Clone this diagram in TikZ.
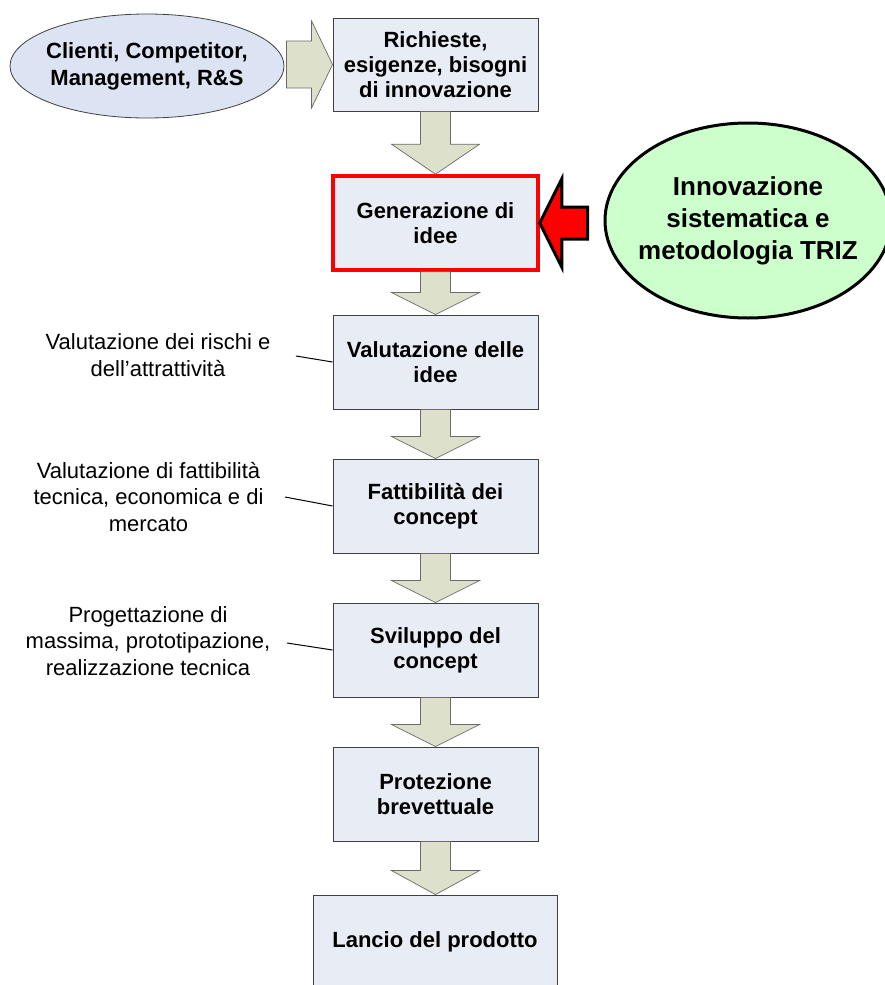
\documentclass[tikz,border=0pt]{standalone}
\usepackage{fontspec}
\setmainfont{Liberation Sans}
\usetikzlibrary{calc,shapes.geometric}
\definecolor{boxfill}{HTML}{E8ECF5}
\definecolor{arrfill}{HTML}{DDE0CA}
\definecolor{ellfill}{HTML}{DCE3F2}
\definecolor{grnfill}{HTML}{CCFFCC}
\definecolor{edgegray}{HTML}{404040}
\definecolor{arredge}{HTML}{6A6A6A}
\newcommand{\blockdown}[3]{%
  \draw[blockarrow] let \p1=(#1.south), \p2=(#2.north) in
   (\x1-15pt,\y1) -- (\x1+15pt,\y1) -- (\x1+15pt,\y2+#3pt) -- (\x1+44pt,\y2+#3pt)
   -- (\x1,\y2) -- (\x1-44pt,\y2+#3pt) -- (\x1-15pt,\y2+#3pt) -- cycle;}
\tikzset{
  stepbox/.style={draw=edgegray, line width=0.9pt, fill=boxfill, minimum width=205pt,
    minimum height=94pt, inner sep=0pt, align=center,
    font=\fontsize{22}{25}\selectfont\bfseries},
  redbox/.style={stepbox, draw=red, line width=3.5pt},
  blockarrow/.style={fill=arrfill, draw=arredge, line width=0.7pt, line join=miter},
  redarrow/.style={fill=red, draw=black, line width=3pt, line join=miter},
  sidelabel/.style={align=center, inner sep=0pt, font=\fontsize{22}{26.5}\selectfont},
  sideline/.style={draw=black, line width=1pt}
}
\begin{document}
\begin{tikzpicture}[x=1pt,y=-1pt]
\useasboundingbox (0,0) rectangle (885,985);
\clip (0,0) rectangle (885,985);
% boxes
\node[stepbox, minimum height=93pt] (b1) at (435.5,64.5) {Richieste,\\esigenze, bisogni\\di innovazione};
\node[redbox] (b2) at (435.5,223) {Generazione di\\idee};
\node[stepbox] (b3) at (435.5,362) {Valutazione delle\\idee};
\node[stepbox] (b4) at (435.5,506) {Fattibilità dei\\concept};
\node[stepbox] (b5) at (435.5,650) {Sviluppo del\\concept};
\node[stepbox] (b6) at (435.5,794) {Protezione\\brevettuale};
\node[stepbox, minimum width=244pt] (b7) at (435,942) {Lancio del prodotto};
% source ellipse
\node[ellipse, draw=edgegray, line width=0.8pt, fill=ellfill, minimum width=274pt,
  minimum height=104pt, inner xsep=-14pt, inner ysep=0pt, align=center,
  font=\fontsize{22}{27}\selectfont\bfseries] (src) at (147,66) {Clienti, Competitor,\\Management, R\&S};
% TRIZ ellipse
\node[ellipse, draw=black, line width=3pt, fill=grnfill, minimum width=286pt,
  minimum height=195pt, inner xsep=-14pt, inner ysep=0pt, align=center,
  font=\fontsize{26}{32}\selectfont\bfseries] (triz) at (748,220.5) {Innovazione\\sistematica e\\metodologia TRIZ};
% right block arrow
\draw[blockarrow] let \p1=(src.east), \p2=(b1.west) in
  (\x1+2pt,\y2+23.5pt) -- (\x2-21pt,\y2+23.5pt) -- (\x2-21pt,\y2+43.5pt) -- (\x2,\y2)
  -- (\x2-21pt,\y2-43.5pt) -- (\x2-21pt,\y2-23.5pt) -- (\x1+2pt,\y2-23.5pt) -- cycle;
% down block arrows
\blockdown{b1}{b2}{30}
\blockdown{b2}{b3}{22}
\blockdown{b3}{b4}{22}
\blockdown{b4}{b5}{22}
\blockdown{b5}{b6}{22}
\blockdown{b6}{b7}{24}
% red arrow
\draw[redarrow] let \p1=(b2.east), \p2=(triz.west) in
  (\x1,\y1) -- (\x1+22pt,\y1+44pt) -- (\x1+22pt,\y1+16pt) -- (\x2-16pt,\y1+16pt)
  -- (\x2-16pt,\y1-16pt) -- (\x1+22pt,\y1-16pt) -- (\x1+22pt,\y1-44pt) -- cycle;
% side labels
\node[sidelabel] (la) at (158,355) {Valutazione dei rischi e\\dell’attrattività};
\node[sidelabel] (lb) at (148.5,497) {Valutazione di fattibilità\\tecnica, economica e di\\mercato};
\node[sidelabel] (lc) at (148,641) {Progettazione di\\massima, prototipazione,\\realizzazione tecnica};
\coordinate (ca) at (296,356);
\coordinate (cb) at (285,497);
\coordinate (cc) at (287,643);
\draw[sideline] (ca) -- (b3.west);
\draw[sideline] (cb) -- (b4.west);
\draw[sideline] (cc) -- (b5.west);
\end{tikzpicture}
\end{document}
